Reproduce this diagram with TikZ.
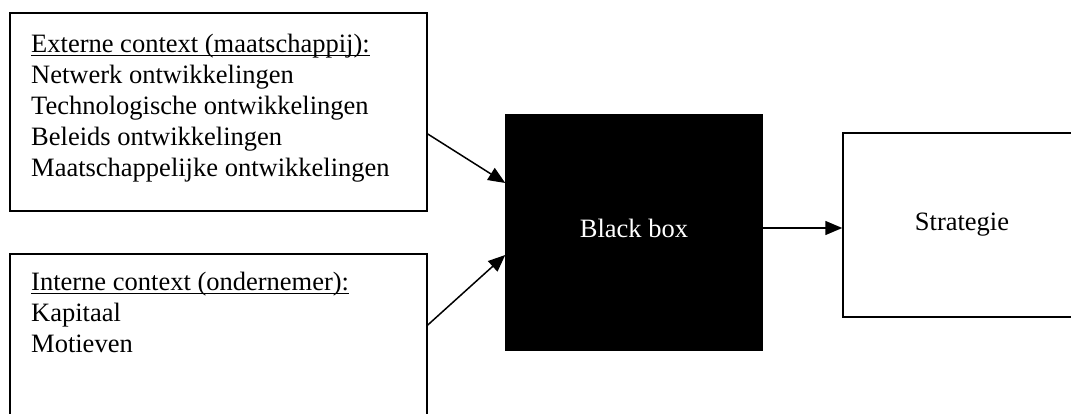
\documentclass[tikz,border=0pt]{standalone}
\usepackage{fontspec}
\setmainfont{Liberation Serif}
\usetikzlibrary{arrows.meta}
\newcommand\myul[1]{\setbox0\hbox{#1}\rlap{\rule[-3.5pt]{\wd0}{1.1pt}}\box0}
\begin{document}
\begin{tikzpicture}[x=1pt,y=-1pt,
  box/.style={draw=black,line width=1.5pt,inner sep=0pt},
  txt/.style={font=\fontsize{26.5}{31}\selectfont,inner sep=0pt,align=left,anchor=north west},
  lbl/.style={font=\fontsize{26.5}{31}\selectfont,inner sep=0pt,anchor=base},
  arr/.style={line width=1.5pt,-{Triangle[length=17pt,width=14pt]}}]
\useasboundingbox (0,0) rectangle (1071,414);
\clip (0,0) rectangle (1071,414);
% boxes
\node[box,minimum width=417pt,minimum height=198pt] (ext) at (218.5,112) {};
\node[box,minimum width=417pt,minimum height=186pt] (int) at (218.5,347) {};
\node[box,fill=black,minimum width=256pt,minimum height=235pt] (bb) at (634,232.5) {};
\node[box,minimum width=239pt,minimum height=184pt] (strat) at (962.5,225) {};
% texts
\node[txt] (exttxt) at (31,30.3) {\strut\myul{Externe context (maatschappij):}\\
Netwerk ontwikkelingen\\
Technologische ontwikkelingen\\
Beleids ontwikkelingen\\
Maatschappelijke ontwikkelingen};
\node[txt] (inttxt) at (31,268.3) {\strut\myul{Interne context (ondernemer):}\\
Kapitaal\\
Motieven};
\node[lbl,text=white] (bbtxt) at (634,237) {Black box};
\node[lbl] (strattxt) at (962,230) {Strategie};
% arrows
\draw[arr] ([yshift=-22pt]ext.east) -- ([yshift=49.5pt]bb.west);
\draw[arr] ([yshift=22pt]int.east) -- ([yshift=-22.5pt]bb.west);
\draw[arr] ([yshift=4.5pt]bb.east) -- ([yshift=-3pt]strat.west);
\end{tikzpicture}
\end{document}
